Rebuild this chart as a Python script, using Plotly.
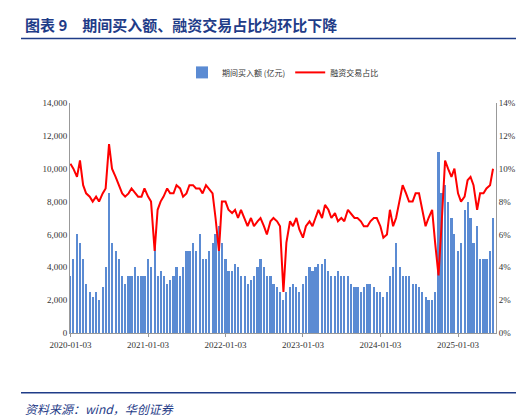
import pandas as pd
import plotly.graph_objects as go

# semi-monthly estimates, 2020-01 .. 2025-06
buy_amount = [
    3500, 4500, 6000, 5500, 4500, 3000, 2500, 2200, 2500, 2000, 2800, 4000,
    8500, 5500, 5000, 4500, 3500, 3000, 3500, 3500, 4000, 3500, 3500, 3500,
    4500, 4000, 5500, 3500, 3800, 3500, 3000, 3200, 3500, 4000, 3500, 4000,
    5000, 5000, 5500, 5000, 6000, 4500, 4500, 5000, 5500, 6000, 6500, 5500,
    4500, 3800, 3800, 4200, 4000, 3500, 3500, 3000, 3200, 3500, 4000, 4500,
    4000, 3500, 3500, 3000, 2800, 2500, 2000, 2500, 2800, 3000, 2800, 2500,
    3000, 3500, 4000, 3800, 4000, 4200, 4200, 4500, 3800, 3500, 3500, 3800,
    3500, 3500, 3500, 3000, 2800, 2800, 2500, 2800, 3000, 3000, 2800, 2500,
    2500, 2200, 2500, 3500, 4000, 5500, 4000, 3500, 3500, 3500, 3000, 3000,
    2800, 2500, 2200, 2000, 2000, 2500, 11000, 8500, 9000, 8000, 7000, 6000,
    5000, 5500, 7500, 8000, 7000, 5500, 6500, 4500, 4500, 4500, 5000, 7000,
]
margin_share = [
    10.3, 10.0, 9.5, 10.5, 9.0, 8.5, 8.3, 8.0, 8.3, 8.0, 8.5, 8.8,
    11.5, 10.0, 9.5, 9.0, 8.5, 8.3, 8.5, 8.8, 8.5, 8.3, 8.3, 8.8,
    8.3, 8.0, 5.0, 7.5, 8.0, 8.3, 8.8, 8.5, 8.5, 9.0, 8.8, 8.3,
    8.5, 9.0, 9.0, 8.8, 8.8, 8.5, 9.0, 8.8, 8.5, 7.0, 5.0, 8.0,
    8.0, 7.5, 7.3, 7.5, 7.0, 7.5, 7.0, 6.5, 7.0, 6.5, 6.8, 7.0,
    6.5, 6.0, 6.8, 7.0, 6.8, 6.5, 2.5, 5.5, 6.8, 6.5, 7.0, 6.3,
    5.8, 6.5, 6.8, 6.5, 7.0, 7.5, 7.0, 7.8, 7.5, 7.0, 7.3, 6.8,
    7.0, 6.8, 7.5, 7.3, 7.0, 7.0, 6.8, 6.5, 6.5, 6.8, 7.0, 7.0,
    6.5, 5.8, 6.0, 7.5, 6.5, 7.0, 8.0, 9.0, 8.5, 8.0, 8.0, 8.5,
    8.5, 7.5, 6.5, 7.0, 7.5, 5.5, 3.5, 6.5, 10.5, 10.0, 9.5, 10.0,
    8.5, 8.0, 8.3, 9.3, 9.5, 9.0, 7.5, 8.5, 8.5, 8.8, 9.0, 10.0,
]
tick_labels = ["2020-01-03", "2021-01-03", "2022-01-03", "2023-01-03", "2024-01-03", "2025-01-03"]

months = pd.date_range("2020-01-01", periods=len(buy_amount) // 2, freq="MS")
dates = []
for m in months:
    dates.append(m + pd.Timedelta(days=2))
    dates.append(m + pd.Timedelta(days=16))

font = "Liberation Serif, Noto Sans CJK SC"
fig = go.Figure()
fig.add_trace(go.Bar(x=dates, y=buy_amount, name="期间买入额 (亿元)", marker_color="#5B8BD3",
                     marker_line_width=0, width=10 * 86400000))
fig.add_trace(go.Scatter(x=dates, y=margin_share, name="融资交易占比", yaxis="y2",
                         mode="lines", line=dict(color="#FF0000", width=2)))

fig.update_layout(
    width=524, height=418, plot_bgcolor="white", paper_bgcolor="white",
    margin=dict(l=62, r=36, t=95, b=93),
    font=dict(family=font, size=9, color="#333"),
    bargap=0,
    legend=dict(orientation="h", x=0.5, xanchor="center", y=1.07, yanchor="bottom",
                font=dict(size=8, family="Noto Sans CJK SC")),
    xaxis=dict(range=["2020-01-01", "2025-07-01"], tickvals=tick_labels, ticktext=tick_labels,
               showline=True, linecolor="#999", ticks="outside", ticklen=3, tickcolor="#999"),
    yaxis=dict(range=[0, 14000], dtick=2000, tickformat=",", showgrid=False,
               showline=True, linecolor="#999"),
    yaxis2=dict(range=[0, 14], dtick=2, ticksuffix="%", overlaying="y", side="right",
                showgrid=False, showline=True, linecolor="#999"),
    shapes=[
        dict(type="line", xref="paper", yref="paper", x0=-0.115, x1=1.07, y0=1.28, y1=1.28,
             line=dict(color="#1F3C88", width=1.5)),
        dict(type="line", xref="paper", yref="paper", x0=-0.115, x1=1.07, y0=-0.26, y1=-0.26,
             line=dict(color="#1F3C88", width=1.5)),
    ],
    annotations=[
        dict(text="<b>图表 9　期间买入额、融资交易占比均环比下降</b>", xref="paper", yref="paper",
             x=-0.11, y=1.34, xanchor="left", yanchor="middle", showarrow=False,
             font=dict(size=15, color="#1F3C88", family="Noto Sans CJK SC")),
        dict(text="<i>资料来源：wind，华创证券</i>", xref="paper", yref="paper",
             x=-0.11, y=-0.33, xanchor="left", yanchor="middle", showarrow=False,
             font=dict(size=12, color="#1F3C88", family="Noto Sans CJK SC")),
    ],
)
fig.write_html("out.html")
